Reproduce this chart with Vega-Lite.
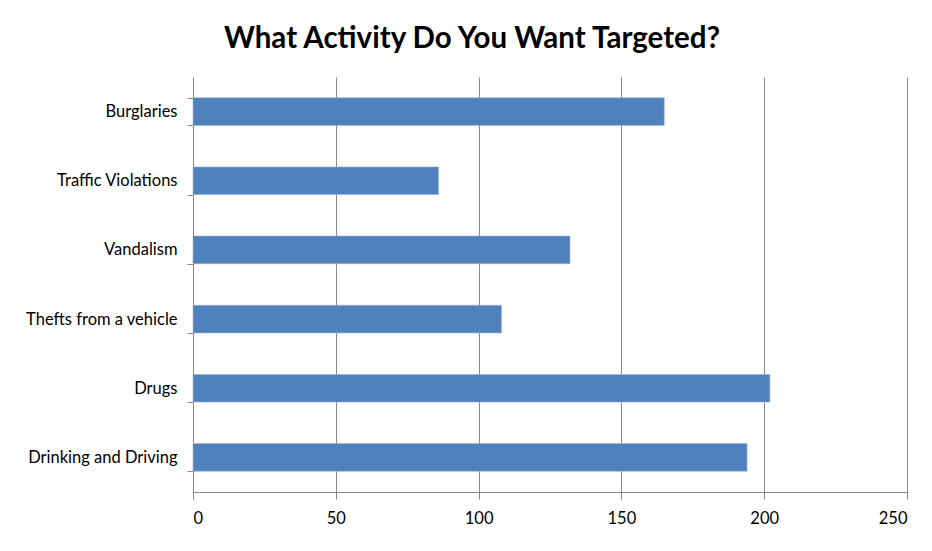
{
  "$schema": "https://vega.github.io/schema/vega-lite/v6.json",
  "autosize": "none",
  "width": 714,
  "height": 415,
  "padding": {"left": 193, "top": 77, "right": 25, "bottom": 59},
  "background": "white",
  "title": {
    "text": "What Activity Do You Want Targeted?",
    "font": "Lato",
    "fontSize": 29.5,
    "fontWeight": "bold",
    "color": "black",
    "anchor": "middle",
    "dx": -78,
    "offset": 15
  },
  "data": {
    "values": [
      {"activity": "Burglaries", "count": 165},
      {"activity": "Traffic Violations", "count": 86},
      {"activity": "Vandalism", "count": 132},
      {"activity": "Thefts from a vehicle", "count": 108},
      {"activity": "Drugs", "count": 202},
      {"activity": "Drinking and Driving", "count": 194}
    ]
  },
  "mark": {"type": "bar", "color": "#4F81BD", "stroke": "#9DB6D8", "strokeWidth": 0.6},
  "encoding": {
    "y": {
      "field": "activity",
      "type": "nominal",
      "sort": null,
      "scale": {"paddingInner": 0.6, "paddingOuter": 0.3},
      "axis": {
        "title": null,
        "tickBand": "extent",
        "tickSize": 6,
        "tickColor": "#888888",
        "domainColor": "#888888",
        "labelPadding": 10,
        "labelFont": "Lato",
        "labelFontSize": 16.5,
        "labelColor": "black",
        "labelLimit": 200,
        "grid": false
      }
    },
    "x": {
      "field": "count",
      "type": "quantitative",
      "scale": {"domain": [0, 250], "nice": false},
      "axis": {
        "title": null,
        "values": [0, 50, 100, 150, 200, 250],
        "tickSize": 7,
        "tickColor": "#888888",
        "domainColor": "#888888",
        "gridColor": "#888888",
        "gridOpacity": 1,
        "labelPadding": 11,
        "labelFont": "Lato",
        "labelFontSize": 16.5,
        "labelColor": "black"
      }
    }
  },
  "config": {"view": {"stroke": null}}
}
